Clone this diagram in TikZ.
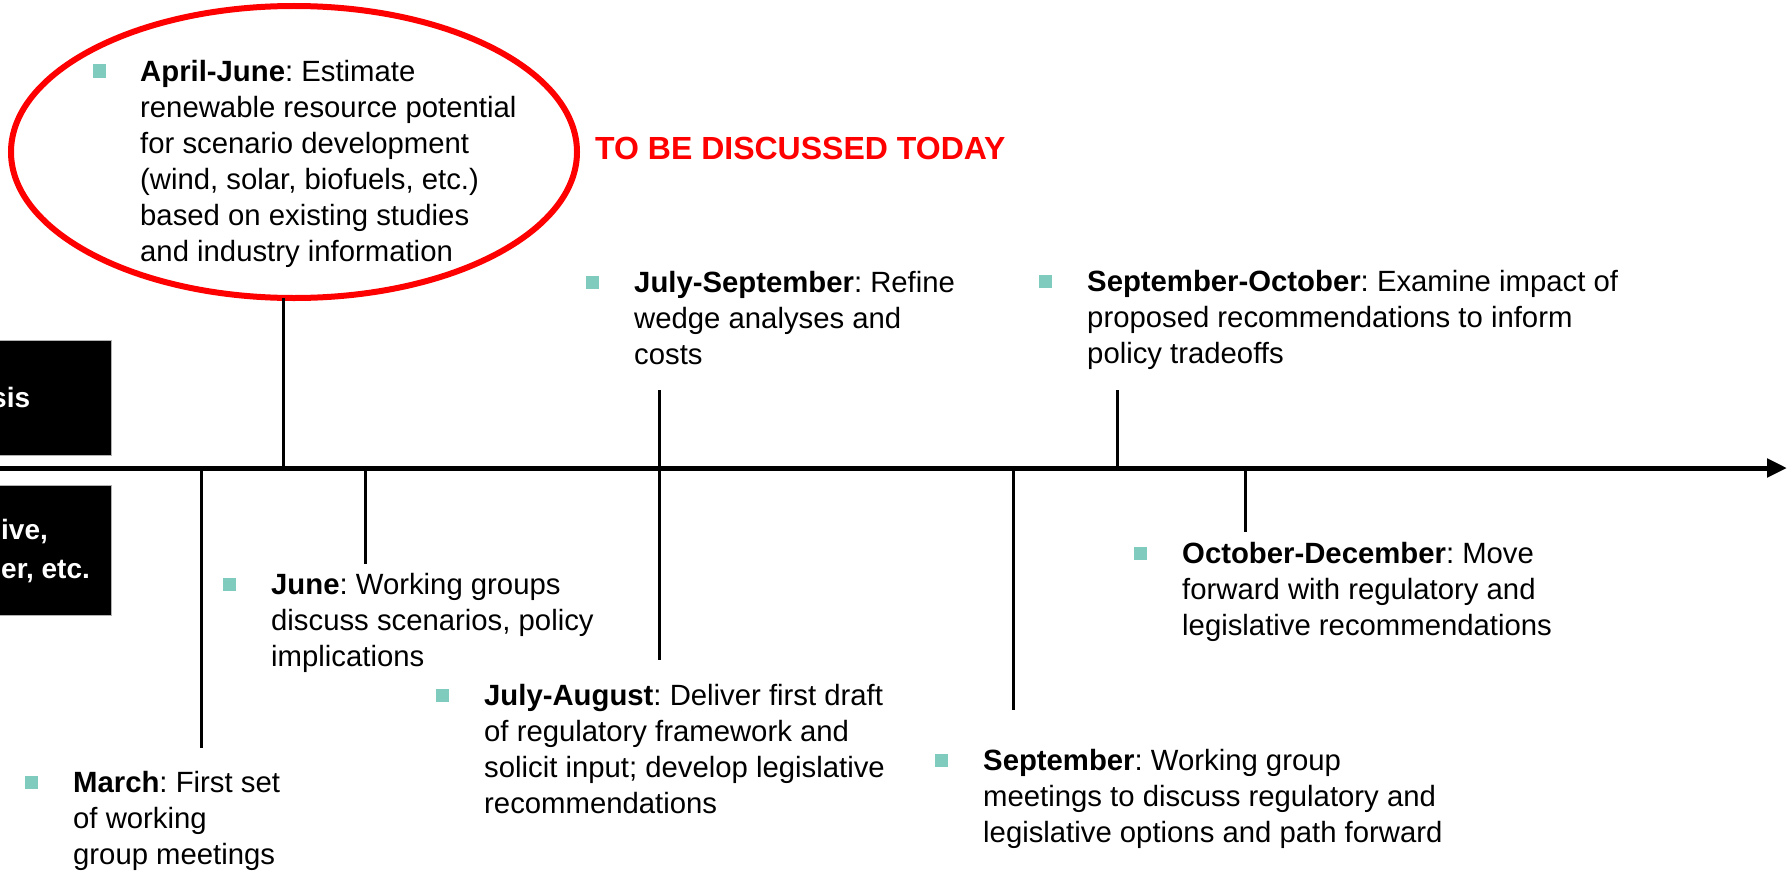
\documentclass[tikz,border=0pt]{standalone}
\usepackage{fontspec}
\setmainfont{Liberation Sans}
\usetikzlibrary{arrows.meta,shapes.geometric}
\definecolor{bulc}{RGB}{127,204,190}
\definecolor{hred}{RGB}{255,0,0}
\frenchspacing
\begin{document}
\begin{tikzpicture}[x=1pt,y=-1pt,
  txt/.style={anchor=north west,inner sep=0pt,align=left,font=\fontsize{29.3}{36}\selectfont\frenchspacing},
  bul/.style={rectangle,fill=bulc,draw=none,minimum size=13pt,inner sep=0pt},
  tickline/.style={line width=3pt},
  lbox/.style={rectangle,fill=black,draw=gray!60,line width=1pt,anchor=north west,inner sep=0pt},
  ltxt/.style={text=white,font=\fontsize{28}{39}\selectfont\bfseries,inner sep=0pt,align=left},
  hl/.style={ellipse,draw=hred,line width=6pt,inner sep=0pt,minimum width=566pt,minimum height=292pt}]
\useasboundingbox (0,0) rectangle (1790,875);

% left black label boxes (cut off at the left edge)
\node[lbox,minimum width=113pt,minimum height=115pt] (boxA) at (-2,340) {};
\node[lbox,minimum width=113pt,minimum height=130pt] (boxB) at (-2,485) {};
\begin{scope}
\clip (0,330) rectangle (120,630);
\node[ltxt,anchor=base west] (boxAt) at (-9,407) {sis};
\node[ltxt,anchor=north west] (boxBt) at (1,511.7) {\strut ive,\\er, etc.};
\end{scope}

% highlight ellipse
\node[hl] (ell) at (294,152) {};

% time axis
\coordinate (axL) at (0,468);
\coordinate (axR) at (1787,468);
\draw[line width=5pt,-{Triangle[length=20pt,width=18pt]}] (axL) -- (axR);

% tick coordinates
\coordinate (tAJa) at (283,298);  \coordinate (tAJb) at (283,468);
\coordinate (tJSa) at (659,390);  \coordinate (tJSb) at (659,468);
\coordinate (tSOa) at (1117,390); \coordinate (tSOb) at (1117,468);
\coordinate (tMa) at (201,470);   \coordinate (tMb) at (201,748);
\coordinate (tJa) at (365,470);   \coordinate (tJb) at (365,564);
\coordinate (tJAa) at (659,468);  \coordinate (tJAb) at (659,660);
\coordinate (tSa) at (1013,468);  \coordinate (tSb) at (1013,710);
\coordinate (tODa) at (1245,470); \coordinate (tODb) at (1245,532);

\draw[tickline] (tAJa) -- (tAJb);
\draw[tickline] (tJSa) -- (tJSb);
\draw[tickline] (tSOa) -- (tSOb);
\draw[tickline] (tMa) -- (tMb);
\draw[tickline] (tJa) -- (tJb);
\draw[tickline] (tJAa) -- (tJAb);
\draw[tickline] (tSa) -- (tSb);
\draw[tickline] (tODa) -- (tODb);

% texts
\node[txt] (aj) at (140,56.3) {\strut\textbf{April-June}: Estimate\\renewable resource potential\\for scenario development\\(wind, solar, biofuels, etc.)\\based on existing studies\\and industry information};
\node[bul] (ajb) at (99,71) {};

\node[anchor=west,inner sep=0pt,text=hred,font=\fontsize{32}{38}\selectfont\bfseries] (today) at (595,148) {TO BE DISCUSSED TODAY};

\node[txt] (js) at (634,267.3) {\strut\textbf{July-September}: Refine\\wedge analyses and\\costs};
\node[bul] (jsb) at (592,282) {};

\node[txt] (so) at (1087,266.3) {\strut\textbf{September-October}: Examine impact of\\proposed recommendations to inform\\policy tradeoffs};
\node[bul] (sob) at (1045,281) {};

\node[txt] (od) at (1182,538.3) {\strut\textbf{October-December}: Move\\forward with regulatory and\\legislative recommendations};
\node[bul] (odb) at (1140,553) {};

\node[txt] (ju) at (271,569.3) {\strut\textbf{June}: Working groups\\discuss scenarios, policy\\implications};
\node[bul] (jub) at (229,584) {};

\node[txt] (ja) at (484,680.3) {\strut\textbf{July-August}: Deliver first draft\\of regulatory framework and\\solicit input; develop legislative\\recommendations};
\node[bul] (jab) at (442,695) {};

\node[txt] (ma) at (73,767.3) {\strut\textbf{March}: First set\\of working\\group meetings};
\node[bul] (mab) at (31,782) {};

\node[txt] (se) at (983,745.3) {\strut\textbf{September}: Working group\\meetings to discuss regulatory and\\legislative options and path forward};
\node[bul] (seb) at (941,760) {};
\end{tikzpicture}
\end{document}
